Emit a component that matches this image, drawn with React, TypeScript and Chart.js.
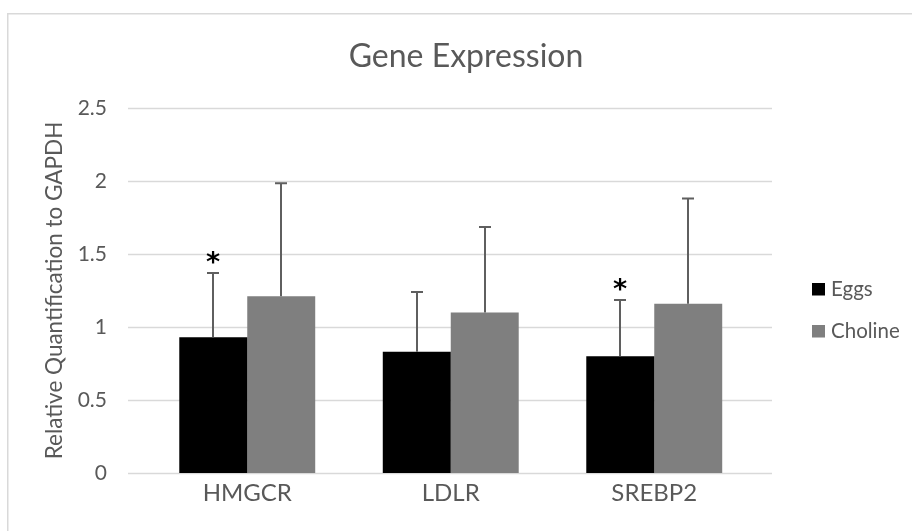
import React, { useEffect, useRef } from "react";
import { Chart, registerables } from "chart.js";
Chart.register(...registerables);

const categories = ["HMGCR", "LDLR", "SREBP2"];
const eggs = [0.93, 0.83, 0.8];
const eggsErr = [0.44, 0.41, 0.385];
const choline = [1.21, 1.1, 1.16];
const cholineErr = [0.775, 0.585, 0.72];
const eggsMarks = ["*", "", "*"];
const cholineMarks = ["", "", ""];
const yTicks = [0, 0.5, 1, 1.5, 2, 2.5];
const chartTitle = "Gene Expression";
const yTitle = "Relative Quantification to GAPDH";

const FONT = "Lato";
const TEXT = "#595959";
const GRID = "#d9d9d9";

const decor = {
  id: "decor",
  beforeDraw(chart: any) {
    const ctx = chart.ctx;
    const ca = chart.chartArea;
    ctx.save();
    ctx.fillStyle = "#ffffff";
    ctx.fillRect(0, 0, chart.width, chart.height);
    ctx.strokeStyle = GRID;
    ctx.lineWidth = 1.5;
    ctx.strokeRect(7.75, 13.75, chart.width + 20, chart.height + 20);
    const y = chart.scales.y;
    for (const v of yTicks) {
      const py = Math.round(y.getPixelForValue(v)) + 0.5;
      ctx.beginPath();
      ctx.moveTo(ca.left - 17.5, py);
      ctx.lineTo(ca.right + 16, py);
      ctx.stroke();
    }
    ctx.fillStyle = TEXT;
    ctx.font = `32px ${FONT}`;
    ctx.textAlign = "center";
    ctx.textBaseline = "alphabetic";
    ctx.fillText(chartTitle, 466, 67);
    ctx.restore();
  },
  afterDatasetsDraw(chart: any) {
    const ctx = chart.ctx;
    const y = chart.scales.y;
    ctx.save();
    chart.data.datasets.forEach((ds: any, di: number) => {
      const meta = chart.getDatasetMeta(di);
      meta.data.forEach((bar: any, i: number) => {
        const top = y.getPixelForValue(ds.data[i] + ds.errors[i]);
        const x = Math.round(bar.x);
        ctx.strokeStyle = "#5f5f5f";
        ctx.lineWidth = 2;
        ctx.beginPath();
        ctx.moveTo(x, bar.y);
        ctx.lineTo(x, top);
        ctx.moveTo(x - 6, top);
        ctx.lineTo(x + 6, top);
        ctx.stroke();
        const mark = ds.marks ? ds.marks[i] : "";
        if (mark) {
          const size = 27;
          ctx.fillStyle = "#000000";
          ctx.font = `bold ${size}px "DejaVu Sans"`;
          ctx.textAlign = "center";
          ctx.textBaseline = "alphabetic";
          ctx.fillText(mark, x, top - 17 + 0.57 * size);
        }
      });
    });
    // legend
    chart.data.datasets.forEach((ds: any, di: number) => {
      const cy = 289 + 42 * di;
      ctx.fillStyle = ds.backgroundColor;
      ctx.fillRect(812, cy - 6, 13, 12.5);
      ctx.fillStyle = TEXT;
      ctx.font = `20.5px ${FONT}`;
      ctx.textAlign = "left";
      ctx.textBaseline = "middle";
      ctx.fillText(ds.label, 831, cy);
    });
    ctx.restore();
  },
};

export default function App() {
  const ref = useRef<HTMLCanvasElement>(null);
  useEffect(() => {
    if (!ref.current) return;
    const chart = new Chart(ref.current, {
      type: "bar",
      data: {
        labels: categories,
        datasets: [
          { label: "Eggs", data: eggs, backgroundColor: "#000000", errors: eggsErr, marks: eggsMarks } as any,
          { label: "Choline", data: choline, backgroundColor: "#7f7f7f", errors: cholineErr, marks: cholineMarks } as any,
        ],
      },
      options: {
        responsive: false,
        animation: false,
        devicePixelRatio: 1,
        layout: { padding: { left: 0, right: 156, top: 108, bottom: 0 } },
        datasets: { bar: { barPercentage: 1, categoryPercentage: 0.668 } },
        plugins: { legend: { display: false }, tooltip: { enabled: false }, title: { display: false } },
        scales: {
          x: {
            grid: { display: false, drawTicks: false },
            border: { display: false },
            ticks: { color: TEXT, font: { family: FONT, size: 24 }, padding: 6 },
            afterFit(s: any) { s.height = 58; },
          },
          y: {
            min: 0,
            max: 2.5,
            grid: { display: false, drawTicks: false },
            border: { display: false },
            ticks: { stepSize: 0.5, color: TEXT, font: { family: FONT, size: 21 }, padding: 38.5, callback: (v: any) => String(v) },
            title: { display: true, text: yTitle, color: TEXT, font: { family: FONT, size: 22.5 }, padding: { top: 41, bottom: 0 } },
            afterFit(s: any) { s.width = 145.5; },
          },
        },
      },
      plugins: [decor],
    } as any);
    return () => chart.destroy();
  }, []);
  return (
    <div style={{ position: "fixed", left: 0, top: 0, width: 912, height: 531, overflow: "hidden", background: "#fff" }}>
      <canvas ref={ref} width={912} height={531} style={{ display: "block" }} />
    </div>
  );
}
